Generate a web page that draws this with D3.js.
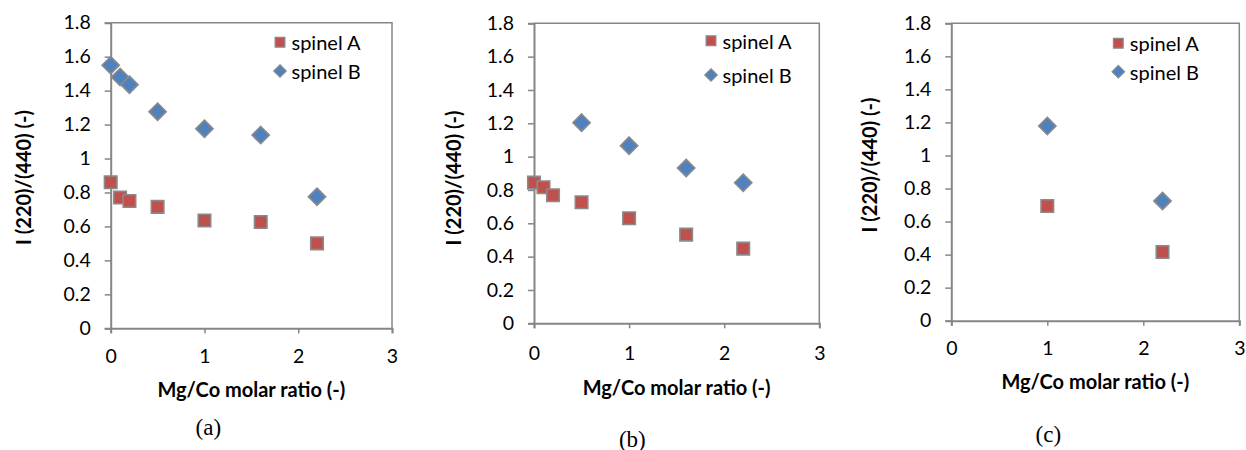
<!DOCTYPE html>
<html>
<head>
<meta charset="utf-8">
<script src="https://cdn.jsdelivr.net/npm/d3@7"></script>
<style>
  html, body { margin: 0; padding: 0; background: #fff; }
  svg { display: block; }
</style>
</head>
<body>
<svg id="chart" width="1246" height="450"></svg>
<script>
// ---------- data ----------
const xTicks = [0, 1, 2, 3];
const yTicks = [0, 0.2, 0.4, 0.6, 0.8, 1, 1.2, 1.4, 1.6, 1.8];
const yTickLabels = ["0", "0.2", "0.4", "0.6", "0.8", "1", "1.2", "1.4", "1.6", "1.8"];
const seriesNames = ["spinel A", "spinel B"];
const panelLabels = ["(a)", "(b)", "(c)"];
const xTitle = "Mg/Co molar ratio (-)";
const yTitle = "I (220)/(440) (-)";

// panel (a)
const aX_A = [0, 0.1, 0.2, 0.5, 1, 1.6, 2.2];
const aY_A = [0.86, 0.77, 0.75, 0.715, 0.635, 0.626, 0.50];
const aX_B = [0, 0.1, 0.2, 0.5, 1, 1.6, 2.2];
const aY_B = [1.55, 1.48, 1.435, 1.276, 1.175, 1.138, 0.775];
// panel (b)
const bX_A = [0, 0.1, 0.2, 0.5, 1, 1.6, 2.2];
const bY_A = [0.844, 0.816, 0.768, 0.726, 0.63, 0.532, 0.448];
const bX_B = [0.5, 1, 1.6, 2.2];
const bY_B = [1.204, 1.066, 0.932, 0.843];
// panel (c)
const cX_A = [1, 2.2];
const cY_A = [0.694, 0.416];
const cX_B = [1, 2.2];
const cY_B = [1.178, 0.725];

// ---------- layout ----------
const panels = [
  { xa: aX_A, ya: aY_A, xb: aX_B, yb: aY_B, label: panelLabels[0],
    left: 110.7, right: 392, top: 22.7, bottom: 328.3,
    yTitleX: 23.3, yTitleY: 177.5, xTitleY: 389, tickLabelY: 356,
    labelX: 208.3, labelY: 427, legX: 280, legYA: 42.3, legYB: 71 },
  { xa: bX_A, ya: bY_A, xb: bX_B, yb: bY_B, label: panelLabels[1],
    left: 534, right: 819.3, top: 23.3, bottom: 323.3,
    yTitleX: 453.3, yTitleY: 178, xTitleY: 386.7, tickLabelY: 352.7,
    labelX: 632.3, labelY: 439, legX: 711, legYA: 40.7, legYB: 75 },
  { xa: cX_A, ya: cY_A, xb: cX_B, yb: cY_B, label: panelLabels[2],
    left: 951.3, right: 1239.3, top: 23.3, bottom: 320.7,
    yTitleX: 869.3, yTitleY: 165, xTitleY: 381, tickLabelY: 348.3,
    labelX: 1048.3, labelY: 434.5, legX: 1118.3, legYA: 43.3, legYB: 71.7 }
];

const COL_A = "#C0504D";
const COL_B = "#4F81BD";
const EDGE = "#8a8a8a";
const AXIS = "#868686";
const SANS = "Lato, 'Open Sans', sans-serif";
const SERIF = "'Liberation Serif', 'DejaVu Serif', serif";

const svg = d3.select("#chart");
const sq = d3.symbol().type(d3.symbolSquare);
const dm = d3.symbol().type(d3.symbolDiamond2);

panels.forEach(p => {
  const g = svg.append("g");
  const x = d3.scaleLinear().domain([0, 3]).range([p.left, p.right]);
  const y = d3.scaleLinear().domain([0, 1.8]).range([p.bottom, p.top]);

  // plot border (top & right)
  g.append("path")
    .attr("d", `M${p.left},${p.top}H${p.right}V${p.bottom}`)
    .attr("fill", "none").attr("stroke", AXIS).attr("stroke-width", 1.5);

  // y axis
  const yAxis = g.append("g").attr("transform", `translate(${p.left},0)`)
    .call(d3.axisLeft(y).tickValues(yTicks)
      .tickFormat((d, i) => yTickLabels[i]).tickSize(6).tickPadding(14));
  // x axis
  const xAxis = g.append("g").attr("transform", `translate(0,${p.bottom})`)
    .call(d3.axisBottom(x).tickValues(xTicks).tickFormat(d3.format("d"))
      .tickSize(5).tickPadding(p.tickLabelY - p.bottom - 5 - 7));

  [yAxis, xAxis].forEach(ax => {
    ax.select(".domain").attr("stroke", AXIS).attr("stroke-width", 2);
    ax.selectAll(".tick line").attr("stroke", AXIS).attr("stroke-width", 1.5);
    ax.selectAll(".tick text").attr("fill", "#000")
      .style("font-family", SANS).style("font-size", "19.5px");
  });
  xAxis.selectAll(".tick text").attr("dy", "0.71em");

  // axis titles
  g.append("text")
    .attr("transform", `translate(${p.yTitleX},${p.yTitleY}) rotate(-90)`)
    .attr("text-anchor", "middle").attr("dominant-baseline", "central")
    .style("font-family", SANS).style("font-size", "20px").style("font-weight", "bold")
    .text(yTitle);
  g.append("text")
    .attr("x", (p.left + p.right) / 2).attr("y", p.xTitleY)
    .attr("text-anchor", "middle").attr("dominant-baseline", "central")
    .style("font-family", SANS).style("font-size", "20px").style("font-weight", "bold")
    .text(xTitle);

  // series A (squares)
  g.append("g").selectAll("path").data(p.xa.map((v, i) => [v, p.ya[i]])).join("path")
    .attr("d", sq.size(156)())
    .attr("transform", d => `translate(${x(d[0])},${y(d[1])})`)
    .attr("fill", COL_A).attr("stroke", EDGE).attr("stroke-width", 1.6);
  // series B (diamonds)
  g.append("g").selectAll("path").data(p.xb.map((v, i) => [v, p.yb[i]])).join("path")
    .attr("d", dm.size(190)())
    .attr("transform", d => `translate(${x(d[0])},${y(d[1])})`)
    .attr("fill", COL_B).attr("stroke", EDGE).attr("stroke-width", 1.6);

  // legend
  const leg = g.append("g");
  leg.append("path").attr("d", sq.size(95)())
    .attr("transform", `translate(${p.legX},${p.legYA})`)
    .attr("fill", COL_A).attr("stroke", EDGE).attr("stroke-width", 1.2);
  leg.append("path").attr("d", dm.size(100)())
    .attr("transform", `translate(${p.legX},${p.legYB})`)
    .attr("fill", COL_B).attr("stroke", EDGE).attr("stroke-width", 1.2);
  [[p.legYA, seriesNames[0]], [p.legYB, seriesNames[1]]].forEach(([yy, t]) => {
    leg.append("text").attr("x", p.legX + 11.5).attr("y", yy)
      .attr("dominant-baseline", "central")
      .style("font-family", SANS).style("font-size", "20px").text(t);
  });

  // panel label
  g.append("text").attr("x", p.labelX).attr("y", p.labelY)
    .attr("text-anchor", "middle").attr("dominant-baseline", "central")
    .style("font-family", SERIF).style("font-size", "23px").text(p.label);
});
</script>
</body>
</html>
